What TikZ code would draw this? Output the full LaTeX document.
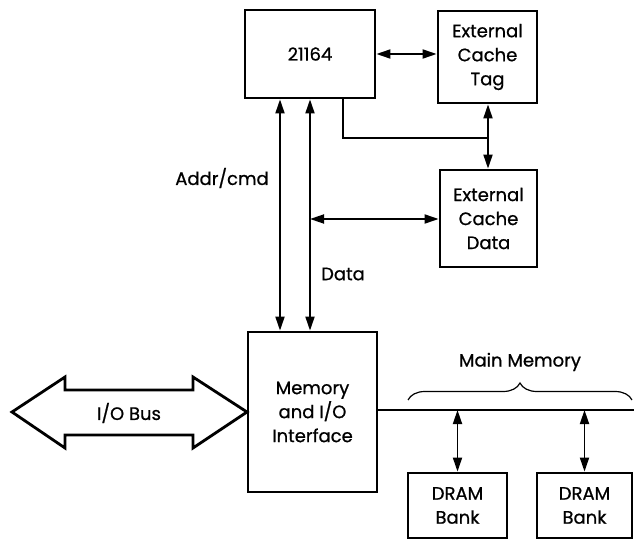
\documentclass[tikz,border=0pt]{standalone}
\usepackage{fontspec}
\setmainfont{Poppins}[FakeBold=0.8]
\usetikzlibrary{arrows.meta,decorations.pathreplacing,calc}
\begin{document}
\begin{tikzpicture}[x=1pt,y=-1pt,
  every node/.style={font=\fontsize{18}{24}\selectfont},
  box/.style={draw, line width=2.8pt, inner sep=0pt, align=center},
  dblarr/.style={line width=1.8pt, {Triangle[length=14pt,width=9pt]}-{Triangle[length=14pt,width=9pt]}},
  thinline/.style={line width=1.5pt}]
\useasboundingbox (0,0) rectangle (634,540);
% boxes
\node[box, minimum width=130pt, minimum height=88pt] (cpu) at (310,54) {21164};
\node[box, minimum width=99pt, minimum height=92pt] (tag) at (487.5,57) {External\\Cache\\Tag};
\node[box, minimum width=97pt, minimum height=97pt] (data) at (488.5,218.5) {External\\Cache\\Data};
\node[box, minimum width=129pt, minimum height=160pt] (mem) at (312.5,412) {Memory\\and I/O\\Interface};
\node[box, minimum width=99pt, minimum height=65pt] (dram1) at (457.5,505.5) {DRAM\\Bank};
\node[box, minimum width=95pt, minimum height=65pt] (dram2) at (584.5,505.5) {DRAM\\Bank};
% helper coordinates
\coordinate (xa) at (280,0);
\coordinate (xd) at (310,0);
\coordinate (xc) at (343,0);
\coordinate (xt) at (488,0);
\coordinate (yc) at (0,138);
\coordinate (yd) at (0,219);
\coordinate (bus) at (634,410);
\coordinate (braceL) at (408,400);
\coordinate (braceR) at (632,400);
% cpu <-> tag
\draw[dblarr] (cpu.east) -- (tag.west |- cpu.east);
% cpu <-> mem
\draw[dblarr] (cpu.south -| xa) -- (mem.north -| xa);
\draw[dblarr] (cpu.south -| xd) -- (mem.north -| xd);
% tag <-> data
\draw[dblarr] (tag.south -| xt) -- (data.north -| xt);
\coordinate (jn) at (xt |- yc);
\draw[thinline] (cpu.south -| xc) |- (jn);
% data bus to data ram
\draw[dblarr] (xd |- yd) -- (data.west |- yd);
% labels
\node (addr) at (222,178) {Addr/cmd};
\node (dlab) at (343,274) {Data};
% I/O bus arrow
\draw[line width=2.8pt, line join=miter] (12,412) -- (65,377) -- (65,390) -- (193,390) -- (193,377) -- (247,412) -- (193,448) -- (193,435) -- (65,435) -- (65,448) -- cycle;
\node (iobus) at (129,413) {I/O Bus};
% main memory bus
\draw[line width=1.2pt] (mem.east |- bus) -- (bus);
\draw[line width=1.2pt, decorate, decoration={brace, amplitude=17pt}] (braceL) -- (braceR);
\node (mm) at (520,362) {Main Memory};
\draw[dblarr] (dram1.north |- bus) -- (dram1.north);
\draw[dblarr] (dram2.north |- bus) -- (dram2.north);
\end{tikzpicture}
\end{document}
